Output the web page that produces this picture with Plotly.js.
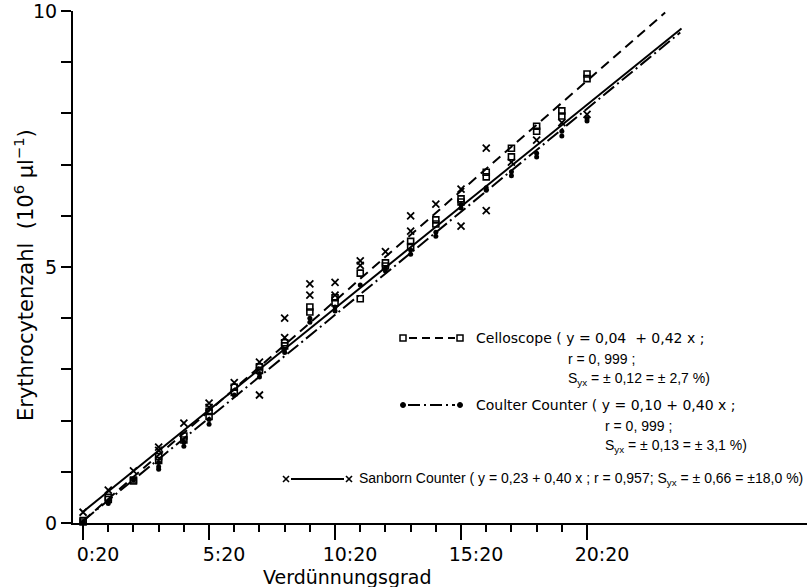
<!DOCTYPE html>
<html><head><meta charset="utf-8">
<script src="https://cdn.plot.ly/plotly-3.0.1.min.js"></script>
<style>html,body{margin:0;padding:0;background:#fff}#chart{width:807px;height:587px}</style>
</head><body><div id="chart"></div>
<script>
// ---- data ----
const xTickVals = [0, 5, 10, 15, 20];
const xTickLabels = ['0:20', '5:20', '10:20', '15:20', '20:20'];
const xMinorTicks = [1,2,3,4,6,7,8,9,11,12,13,14,16,17,18,19];
const yTickVals = [0, 5, 10];
const yTickLabels = ['0', '5', '10'];
const yMinorTicks = [1,2,3,4,6,7,8,9];

// Celloscope (open squares)
const celloX = [0,0,1,1,2,2,3,3,4,4,5,5,6,6,7,7,8,8,9,9,10,10,11,11,12,12,13,13,14,14,15,15,16,16,17,17,18,18,19,19,20,20];
const celloY = [0.05,0.02,0.50,0.46,0.84,0.82,1.30,1.22,1.70,1.62,2.18,2.08,2.65,2.55,3.05,2.98,3.52,3.46,4.22,4.12,4.40,4.30,4.88,4.38,5.08,5.02,5.50,5.40,5.92,5.84,6.33,6.27,6.85,6.76,7.32,7.15,7.75,7.65,8.05,7.95,8.77,8.68];
// Coulter Counter (filled dots)
const coulterX = [0,1,1,2,3,3,3,4,4,5,5,6,7,7,8,8,9,9,10,10,11,12,12,13,13,14,14,15,15,16,16,17,17,18,18,19,19,20,20];
const coulterY = [0.02,0.42,0.38,0.84,1.18,1.10,1.05,1.58,1.50,2.02,1.93,2.50,2.92,2.85,3.40,3.33,4.00,3.92,4.22,4.14,4.65,4.98,4.92,5.33,5.25,5.68,5.60,6.22,6.15,6.55,6.50,6.86,6.78,7.22,7.15,7.65,7.56,7.90,7.85];
// Sanborn Counter (x)
const sanbornX = [0,1,2,3,3,4,5,5,6,7,7,8,8,9,9,10,10,11,11,12,13,13,14,15,15,16,16,17,18,19,20];
const sanbornY = [0.21,0.64,1.02,1.48,1.42,1.95,2.34,2.26,2.74,3.14,2.50,4.00,3.62,4.67,4.45,4.70,4.45,5.12,5.03,5.30,6.00,5.70,6.23,6.52,5.80,7.32,6.10,7.05,7.48,7.82,7.98];

// regression lines (end points)
const celloLineX = [0, 23.1];
const celloLineY = [0.04, 9.97];
const coulterLineX = [0, 23.7];
const coulterLineY = [0.04, 9.58];
const sanbornLineX = [0, 23.75];
const sanbornLineY = [0.22, 9.66];

const xTitle = 'Verdünnungsgrad';
const yTitle = 'Erythrocytenzahl  (10<sup>6</sup> µl<sup>−1</sup>)';
const legCello = ['Celloscope ( y = 0,04  + 0,42 x ;', 'r = 0, 999 ;', 'S<sub>yx</sub> = ± 0,12 = ± 2,7 %)'];
const legCoulter = ['Coulter Counter ( y = 0,10 + 0,40 x ;', 'r = 0, 999 ;', 'S<sub>yx</sub> = ± 0,13 = ± 3,1 %)'];
const legSanborn = 'Sanborn Counter ( y = 0,23 + 0,40 x ; r = 0,957; S<sub>yx</sub> = ± 0,66 = ±18,0 %)';

// ---- layout helpers ----
const FONT = 'DejaVu Sans, Verdana, sans-serif';
const FONT2 = 'Liberation Sans, Arial, sans-serif';
const W = 807, H = 587, ML = 73, MR = 0, MT = 11, MB = 64;
const PW = W - ML - MR, PH = H - MT - MB;
const px = v => (v - ML) / PW;
const py = v => (H - MB - v) / PH;

const traces = [
  {x: sanbornLineX, y: sanbornLineY, mode: 'lines', line: {color: '#000', width: 2}, hoverinfo: 'skip'},
  {x: celloLineX, y: celloLineY, mode: 'lines', line: {color: '#000', width: 2, dash: '10px,6px'}, hoverinfo: 'skip'},
  {x: coulterLineX, y: coulterLineY, mode: 'lines', line: {color: '#000', width: 2, dash: '14px,4px,2px,4px'}, hoverinfo: 'skip'},
  {x: celloX, y: celloY, mode: 'markers', cliponaxis: false,
   marker: {symbol: 'square-open', size: 6, color: '#000', line: {width: 1.6, color: '#000'}}},
  {x: coulterX, y: coulterY, mode: 'markers', cliponaxis: false,
   marker: {symbol: 'circle', size: 5, color: '#000'}},
  {x: sanbornX, y: sanbornY, mode: 'markers', cliponaxis: false,
   marker: {symbol: 'x-thin-open', size: 7, color: '#000', line: {width: 1.8, color: '#000'}}}
];

const ann = [];
function txt(text, xp, yp, size, fam) {
  ann.push({text: text.replace(/  /g, ' \u00a0'), xref: 'paper', yref: 'paper', x: px(xp), y: py(yp),
    xanchor: 'left', yanchor: 'middle', showarrow: false, font: {family: fam || FONT, size: size, color: '#000'}});
}
txt(legCello[0], 474, 338, 14);
txt(legCello[1], 566, 359, 14, FONT2);
txt(legCello[2], 566, 379, 14, FONT2);
txt(legCoulter[0], 474, 405, 14);
txt(legCoulter[1], 603, 426, 14, FONT2);
txt(legCoulter[2], 603, 446, 14, FONT2);
txt(legSanborn, 357, 479, 14, FONT2);
txt(xTitle, 261, 577, 19);
ann.push({text: yTitle.replace(/  /g, ' \u00a0'), xref: 'paper', yref: 'paper', x: px(24), y: py(275), xanchor: 'center', yanchor: 'middle',
  textangle: -90, showarrow: false, font: {family: FONT, size: 21, color: '#000'}});

const shapes = [];
function seg(x0, x1, y, dash) {
  shapes.push({type: 'line', xref: 'paper', yref: 'paper', x0: px(x0), x1: px(x1), y0: py(y), y1: py(y),
    line: {color: '#000', width: 2, dash: dash}});
}
function sq(x, y) {
  shapes.push({type: 'rect', xref: 'paper', yref: 'paper', xsizemode: 'pixel', ysizemode: 'pixel',
    xanchor: px(x), yanchor: py(y), x0: -3, x1: 3, y0: -3, y1: 3, line: {color: '#000', width: 1.5}});
}
function dot(x, y) {
  shapes.push({type: 'circle', xref: 'paper', yref: 'paper', xsizemode: 'pixel', ysizemode: 'pixel',
    xanchor: px(x), yanchor: py(y), x0: -2.5, x1: 2.5, y0: -2.5, y1: 2.5, fillcolor: '#000', line: {color: '#000', width: 1}});
}
function cross(x, y) {
  shapes.push({type: 'line', xref: 'paper', yref: 'paper', xsizemode: 'pixel', ysizemode: 'pixel',
    xanchor: px(x), yanchor: py(y), x0: -3, x1: 3, y0: -3, y1: 3, line: {color: '#000', width: 1.6}});
  shapes.push({type: 'line', xref: 'paper', yref: 'paper', xsizemode: 'pixel', ysizemode: 'pixel',
    xanchor: px(x), yanchor: py(y), x0: -3, x1: 3, y0: 3, y1: -3, line: {color: '#000', width: 1.6}});
}
sq(403, 338); seg(409, 455, 338, '8px,5px'); sq(460, 338);
dot(403, 405); seg(408, 455, 405, '12px,4px,2px,4px'); dot(460, 405);
cross(286, 479); seg(291, 344, 479, 'solid'); cross(349, 479);

const layout = {
  width: W, height: H, margin: {l: ML, r: MR, t: MT, b: MB, pad: 0},
  paper_bgcolor: '#fff', plot_bgcolor: '#fff', showlegend: false,
  font: {family: FONT, color: '#000'},
  xaxis: {range: [-0.4, 28.73], showline: true, linewidth: 2, linecolor: '#000', showgrid: false, zeroline: false,
    ticks: 'outside', tickmode: 'array', tickvals: xTickVals, ticktext: xTickLabels, ticklen: 15, tickwidth: 2, tickcolor: '#000',
    tickfont: {family: FONT, size: 19, color: '#000'}, ticklabelshift: 15, ticklabelstandoff: -2,
    minor: {tickmode: 'array', tickvals: xMinorTicks, ticks: 'outside', ticklen: 7, tickwidth: 2, tickcolor: '#000', showgrid: false}},
  yaxis: {range: [0, 10], showline: true, linewidth: 2, linecolor: '#000', showgrid: false, zeroline: false,
    ticks: 'outside', tickmode: 'array', tickvals: yTickVals, ticktext: yTickLabels, ticklen: 10, tickwidth: 2, tickcolor: '#000',
    tickfont: {family: FONT, size: 19, color: '#000'}, ticklabeloverflow: 'allow',
    minor: {tickmode: 'array', tickvals: yMinorTicks, ticks: 'outside', ticklen: 10, tickwidth: 2, tickcolor: '#000', showgrid: false}},
  annotations: ann, shapes: shapes
};
Plotly.newPlot('chart', traces, layout, {staticPlot: true, displayModeBar: false});
</script></body></html>
